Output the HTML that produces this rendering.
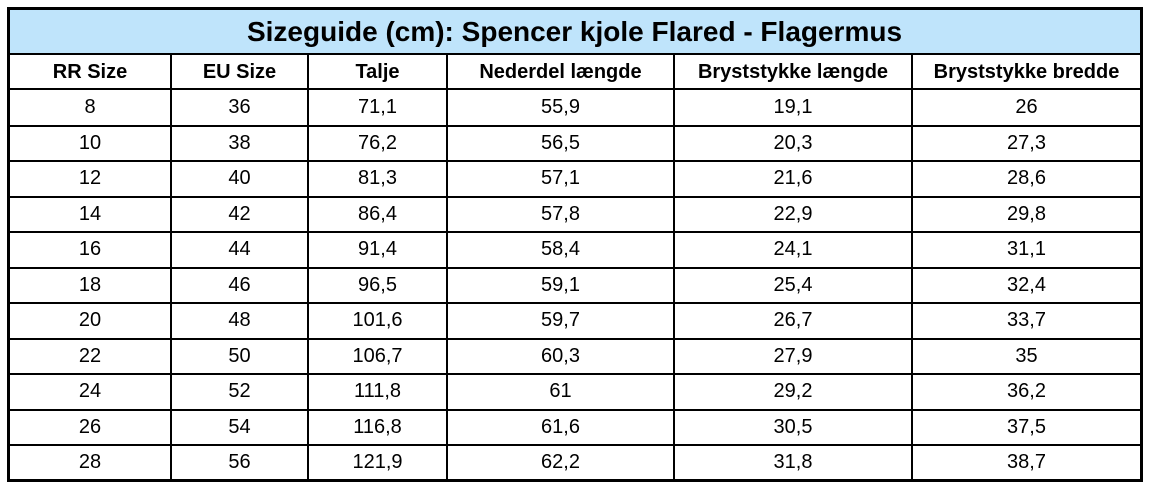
<!DOCTYPE html><html><head><style>
body{margin:0;width:1149px;height:490px;background:#fff;font-family:"Liberation Sans",Arial,sans-serif;position:relative;overflow:hidden}
.b{position:absolute;background:#000}
.t{position:absolute;text-align:center;color:#000}
</style></head><body>
<div style="position:absolute;left:9px;top:9px;width:1131px;height:44px;background:#bfe4fb"></div>
<div id="c"></div>
<script>
var c=document.getElementById('c'),h='';
function L(x,y,w,hh){h+='<div class="b" style="left:'+x+'px;top:'+y+'px;width:'+w+'px;height:'+hh+'px"></div>';}
L(7,7,1136,3);L(7,479,1136,3);L(7,7,3,475);L(1140,7,3,475);
L(7,53,1136,2);L(7,88,1136,2);
var xs=[9,171,308,447,674,912,1141];
for(var i=1;i<6;i++)L(xs[i]-1,53,2,427);
for(var r=1;r<11;r++)L(7,Math.round(89+r*35.5),1136,2);
h+='<div class="t" style="left:9px;top:13px;width:1131px;font-size:28px;font-weight:bold;line-height:38px">Sizeguide (cm): Spencer kjole Flared - Flagermus</div>';
var hd=['RR Size','EU Size','Talje','Nederdel længde','Bryststykke længde','Bryststykke bredde'];
for(i=0;i<6;i++)h+='<div class="t" style="left:'+xs[i]+'px;width:'+(xs[i+1]-xs[i])+'px;top:59px;font-size:20px;font-weight:bold;line-height:26px">'+hd[i]+'</div>';
var d=[[8,36,'71,1','55,9','19,1','26'],[10,38,'76,2','56,5','20,3','27,3'],[12,40,'81,3','57,1','21,6','28,6'],[14,42,'86,4','57,8','22,9','29,8'],[16,44,'91,4','58,4','24,1','31,1'],[18,46,'96,5','59,1','25,4','32,4'],[20,48,'101,6','59,7','26,7','33,7'],[22,50,'106,7','60,3','27,9','35'],[24,52,'111,8','61','29,2','36,2'],[26,54,'116,8','61,6','30,5','37,5'],[28,56,'121,9','62,2','31,8','38,7']];
for(r=0;r<11;r++)for(i=0;i<6;i++)h+='<div class="t" style="left:'+xs[i]+'px;width:'+(xs[i+1]-xs[i])+'px;top:'+(90+r*35.5)+'px;font-size:20px;line-height:34px">'+d[r][i]+'</div>';
c.innerHTML=h;
</script>
</body></html>
